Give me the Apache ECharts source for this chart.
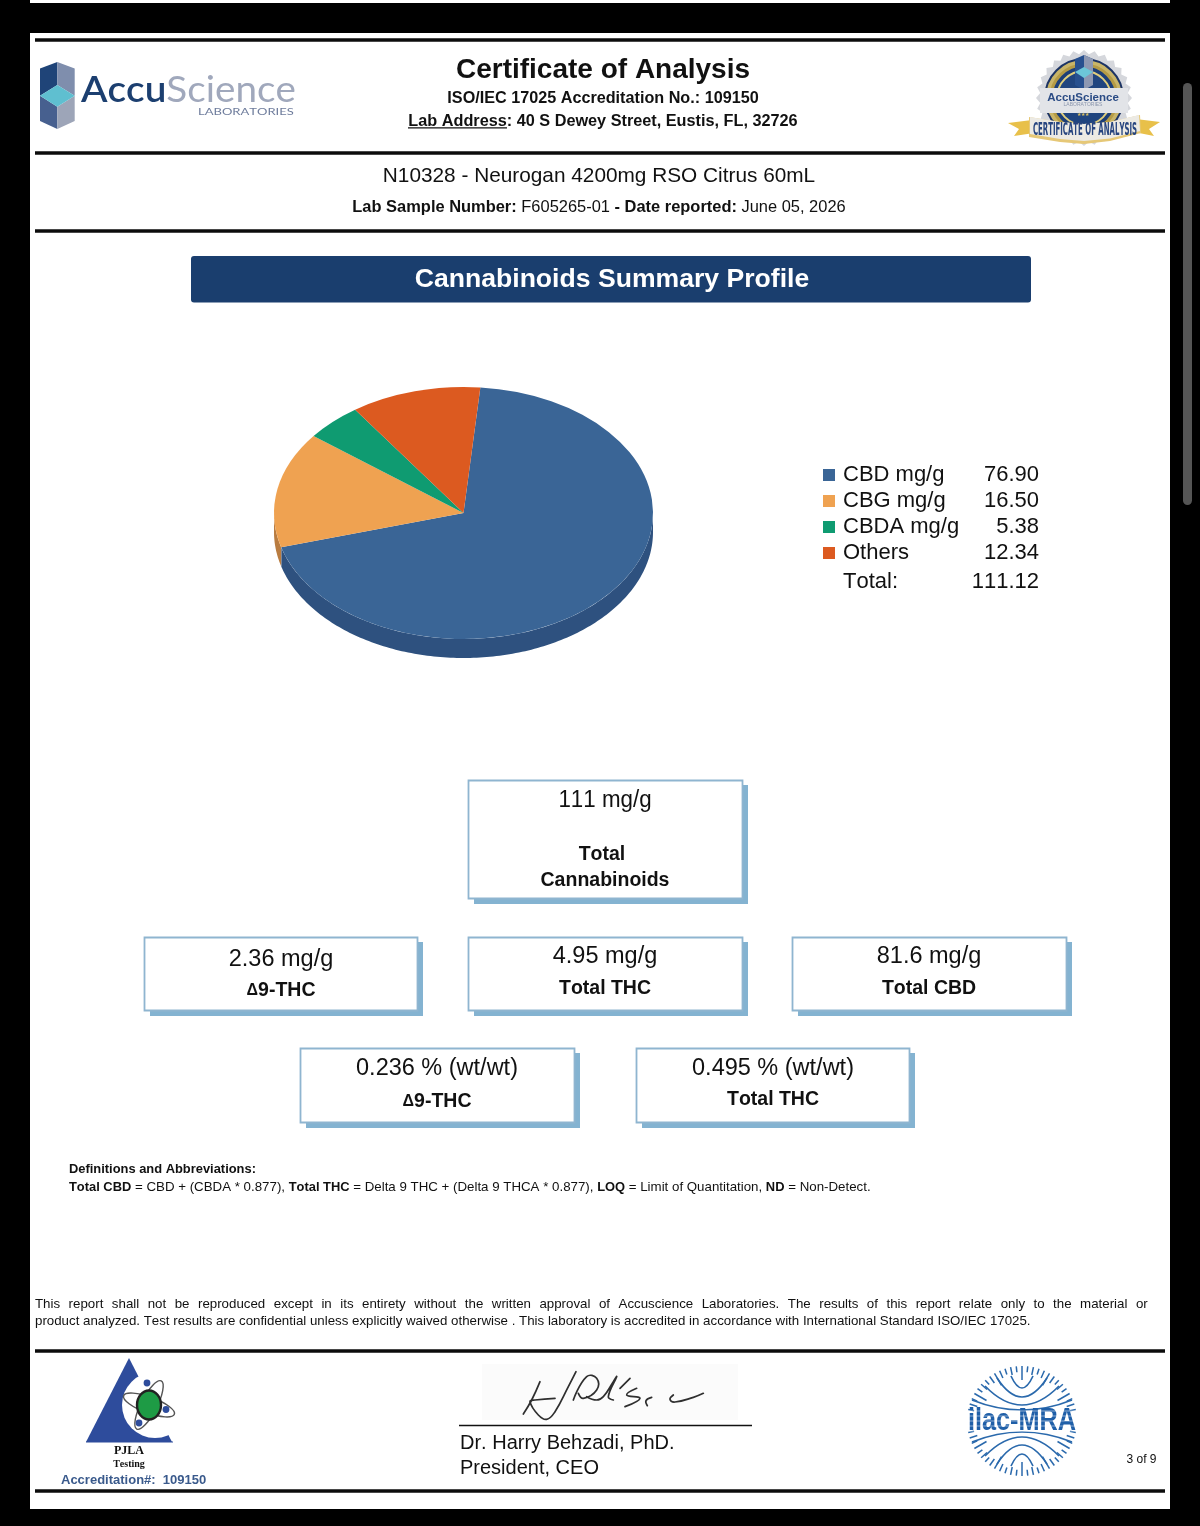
<!DOCTYPE html>
<html><head><meta charset="utf-8">
<style>html,body{margin:0;padding:0;background:#000}#c{width:1200px;height:1526px}</style>
<script src="https://cdn.jsdelivr.net/npm/echarts@6/dist/echarts.min.js"></script>
</head><body><div id="c"></div>
<script>
// ---- chart data ----
const categories = ['CBD mg/g', 'CBG mg/g', 'CBDA mg/g', 'Others'];
const values = [76.90, 16.50, 5.38, 12.34];
const valueLabels = ['76.90', '16.50', '5.38', '12.34'];
const totalLabel = '111.12';
const topColors = ['#3A6596', '#EFA251', '#0F9B71', '#DC5A20'];
const wallColors = ['#2E517F', '#B97C40', '#0B7655', '#A84418'];
// ---- summary card texts ----
const cardValues = ['111 mg/g', '2.36 mg/g', '4.95 mg/g', '81.6 mg/g', '0.236 % (wt/wt)', '0.495 % (wt/wt)'];
const cardNames = ['Total\nCannabinoids', 'Δ9-THC', 'Total THC', 'Total CBD', 'Δ9-THC', 'Total THC'];

// plain un-kerned text, as in the source document
const _gc = HTMLCanvasElement.prototype.getContext;
HTMLCanvasElement.prototype.getContext = function (t, o) {
  const c = _gc.call(this, t, o);
  if (c && t === '2d' && 'fontKerning' in c) c.fontKerning = 'none';
  return c;
};

const SANS = '"Liberation Sans", Arial, sans-serif';
const g = [];
const rect = (x, y, w, h, fill, extra) => g.push(Object.assign({type:'rect', shape:{x, y, width:w, height:h, r:(extra&&extra.r)||0}, style:{fill}, z:1}, extra&&extra.o));
function T(x, y, text, size, o) {
  o = o || {};
  g.push({type:'text', x, y:y+1, z:o.z||5, scaleX:o.sx||1, scaleY:o.sy||1, rotation:o.rot||0, style:{
    text, fill:o.fill||'#111', font:(o.bold?'bold ':'')+size+'px '+(o.family||SANS),
    textAlign:o.align||'center', textVerticalAlign:'middle', rich:o.rich
  }});
}
const line = (x1,y1,x2,y2,stroke,w,z) => g.push({type:'line', z:z||3, shape:{x1,y1,x2,y2}, style:{stroke, lineWidth:w}});
const poly = (points, fill, z) => g.push({type:'polygon', z:z||2, shape:{points}, style:{fill}});
const circ = (cx,cy,r,fill,stroke,w,z) => g.push({type:'circle', z:z||2, shape:{cx,cy,r}, style:{fill:fill||'none', stroke:stroke||'none', lineWidth:w||0}});
const curve = (points, w, color) => g.push({type:'polyline', z:4, shape:{points, smooth:0.45}, style:{stroke:color||'#2F2F2F', lineWidth:w||1.2, fill:'none', lineCap:'round'}});

// paper & chrome
rect(30, 0, 1140, 3, '#fff');
rect(30, 33, 1140, 1476, '#fff');
rect(1183, 83, 9, 422, '#555', {r:4.5});
[[40,3.5],[153,3.5],[231,3.5],[1351,3.5],[1491,3.5]].forEach(l => rect(35, l[0]-l[1]/2, 1130, l[1], '#0c0c0c'));

// AccuScience logo
poly([[57.3,62],[40,68.5],[40,95.7],[57.3,85]], '#1F4478');
poly([[57.3,62],[74.7,68.5],[74.7,95.7],[57.3,85]], '#7F8EAD');
poly([[40,95.7],[57.3,106.7],[57.3,129],[40,121]], '#47608F');
poly([[74.7,95.7],[57.3,106.7],[57.3,129],[74.7,121]], '#9DA5B8');
poly([[40,95.7],[57.3,85],[74.7,95.7],[57.3,106.7]], '#5FBFD0');
T(81, 89, '{a|Accu}{b|Science}', 37, {align:'left', sx:1.045, rich:{a:{fill:'#1C3F70', font:'600 37px Lato, sans-serif'}, b:{fill:'#A0A8BC', font:'37px Lato, sans-serif'}}});
T(198, 110.5, 'LABORATORIES', 9.5, {align:'left', sx:1.37, fill:'#6E7C9C', family:'Lato, sans-serif'});

// Header
T(603, 69, 'Certificate of Analysis', 28, {bold:true});
T(603, 98, 'ISO/IEC 17025 Accreditation No.: 109150', 16.2, {bold:true});
T(603, 120.5, 'Lab Address: 40 S Dewey Street, Eustis, FL, 32726', 16.25, {bold:true});
rect(408, 127.3, 99, 1.3, '#111');

// Seal
(function(){
  const cx=1084, cy=98, pts=[];
  for (let i=0;i<56;i++){ const a=i/56*Math.PI*2, r=i%2?44:48; pts.push([cx+r*Math.cos(a), cy+r*Math.sin(a)]); }
  poly(pts, '#D5D7DC');
  circ(cx,cy,39,'#C9B568','#1D3464',2);
  circ(cx,cy,33,'#1D3F78','#B59B45',3);
  circ(cx,cy,27,'#20457F','#E0CE7C',2);
  poly([[1084,55],[1075,59],[1075,85],[1084,90],[1093,85],[1093,59]], '#27508F', 3);
  poly([[1084,55],[1093,59],[1093,85],[1084,90]], '#8D98B2', 3);
  poly([[1075,72],[1084,67],[1093,72],[1084,78]], '#6CC6D8', 3);
  rect(1040, 88, 88, 25, '#E2E4E8', {o:{z:3}});
  T(1083, 96.5, 'AccuScience', 11.5, {bold:true, fill:'#2B4C85'});
  T(1083, 104, 'LABORATORIES', 5, {fill:'#8C97AE'});
  T(1083, 113.5, '★★★', 5, {fill:'#D9BE62'});
  poly([[1008,123],[1032,120],[1034,133],[1014,136],[1019,129]], '#E8C04A', 3);
  poly([[1160,122],[1136,119],[1134,132],[1154,136],[1149,129]], '#E8C04A', 3);
  poly([[1029,117],[1060,122],[1084,124],[1110,122],[1140,115],[1141,133],[1110,141],[1084,144],[1060,142],[1029,137]], '#E6C877', 4);
  poly([[1030,117],[1060,122],[1084,124],[1110,122],[1139,115],[1140,131],[1110,138.5],[1084,141],[1060,139],[1030,134]], '#ECEAE4', 4);
  T(1085, 129, 'CERTIFICATE OF ANALYSIS', 18, {bold:true, fill:'#27457F', sx:0.43, family:'"DejaVu Sans Condensed","Liberation Sans Narrow",sans-serif', z:6});
})();

// Sample line
T(599, 175.5, 'N10328 - Neurogan 4200mg RSO Citrus 60mL', 20.8);
T(599, 206, '{b|Lab Sample Number:} F605265-01 {b|- Date reported:} June 05, 2026', 16.45, {rich:{b:{font:'bold 16.45px '+SANS, fill:'#111'}}});

// Banner
rect(191, 256, 840, 46.5, '#1A3E6E', {r:3});
T(612, 278.5, 'Cannabinoids Summary Profile', 26.6, {bold:true, fill:'#fff'});

// Legend total row
T(843, 581, 'Total:', 22, {align:'left'});
T(1039, 581, totalLabel, 22, {align:'right'});

// Cards
const cards = [[468,780,275,119],[144,937,274,74],[468,937,275,74],[792,937,275,74],[300,1048,275,75],[636,1048,274,75]];
cards.forEach(c => {
  rect(c[0]+6, c[1]+5, c[2]-1, c[3], '#84B3D1');
  g.push({type:'rect', z:2, shape:{x:c[0]+0.5, y:c[1]+0.5, width:c[2]-1, height:c[3]-1}, style:{fill:'#fff', stroke:'#8FB5D0', lineWidth:1.8}});
});
const valueY = [800,959,956,956,1068,1068];
const valueX = [605,281,605,929,437,773];
const nameY = [854,990,988,988,1101,1099];
cardValues.forEach((v,i) => T(valueX[i], valueY[i], v, 23.5, {sx:i===0?0.95:1}));
const delta = {d:{font:'bold 16px '+SANS, fill:'#111'}, e:{font:'bold 19.5px '+SANS, fill:'#111'}};
cardNames.forEach((n,i) => {
  if (i===0) { n.split('\n').forEach((s,j) => T(j?605:602, nameY[0]+26*j, s, 19.5, {bold:true})); }
  else if (n[0]==='Δ') T(valueX[i], nameY[i], '{d|Δ}{e|'+n.slice(1)+'}', 19.5, {bold:true, rich:delta});
  else T(valueX[i], nameY[i], n, 19.5, {bold:true});
});

// Notes
const bs = {b:{font:'bold 12.9px '+SANS, fill:'#111'}};
T(69, 1168, 'Definitions and Abbreviations:', 12.9, {align:'left', bold:true});
T(69, 1186, '{b|Total CBD} = CBD + (CBDA * 0.877), {b|Total THC} = Delta 9 THC + (Delta 9 THCA * 0.877), {b|LOQ} = Limit of Quantitation, {b|ND} = Non-Detect.', 13.3, {align:'left', rich:bs});
const discl = 'This report shall not be reproduced except in its entirety without the written approval of Accuscience Laboratories. The results of this report relate only to the material or'.split(' ');
T(35, 1303.5, discl.join('  \u200A'), 13.3, {align:'left'});
T(35, 1320.5, 'product analyzed. Test results are confidential unless explicitly waived otherwise . This laboratory is accredited in accordance with International Standard ISO/IEC 17025.', 13.3, {align:'left'});

// PJLA
poly([[129,1358],[86,1442],[172,1442]], '#2E4C9C');
circ(155,1405,33,'#fff',null,0,3);
rect(86,1441.5,87,1,'#2E4C9C',{o:{z:4}});
g.push({type:'ellipse', z:4, shape:{cx:149,cy:1405,rx:27,ry:8}, rotation:-0.35, originX:149, originY:1405, style:{fill:'none',stroke:'#555',lineWidth:1.4}});
g.push({type:'ellipse', z:4, shape:{cx:149,cy:1405,rx:27,ry:8}, rotation:1.1, originX:149, originY:1405, style:{fill:'none',stroke:'#555',lineWidth:1.4}});
g.push({type:'ellipse', z:4, shape:{cx:149,cy:1405,rx:12,ry:14.5}, style:{fill:'#1E9B45',stroke:'#222',lineWidth:2.4}});
circ(147,1383,3.4,'#2E4C9C',null,0,5); circ(166,1409.5,3.4,'#2E4C9C',null,0,5); circ(139,1423,3.4,'#2E4C9C',null,0,5);
T(129, 1449.5, 'PJLA', 12, {bold:true, family:'"Liberation Serif",serif'});
T(129, 1463.5, 'Testing', 10, {bold:true, family:'"Liberation Serif",serif'});
T(61, 1479, 'Accreditation#:  109150', 13, {align:'left', bold:true, fill:'#3A5A8C'});

// Signature
rect(482, 1364, 256, 56, '#FBFBFB');
const sg = pts => curve(pts.map(p => [440+p[0]/3, 1340+p[1]/3]), 1.7);
sg([[300,125],[275,180],[250,222]]);
sg([[408,95],[385,140],[345,215],[320,238],[295,225],[270,185],[285,180],[345,175]]);
sg([[400,180],[440,110],[470,115],[470,150],[430,175],[415,160]]);
sg([[440,170],[470,180],[490,170],[520,125],[530,110],[505,170],[520,180]]);
sg([[540,145],[570,115]]);
sg([[555,200],[600,175],[560,165],[590,145]]);
sg([[635,172],[618,182],[622,197]]);
sg([[700,165],[690,178],[705,186],[760,172],[790,160]]);
line(459,1425.5,752,1425.5,'#111',1.5);
T(460, 1442.5, 'Dr. Harry Behzadi, PhD.', 20, {align:'left'});
T(460, 1467.5, 'President, CEO', 20, {align:'left'});

// ilac
(function(){
  const cx=1022, cy=1421, blue='#2A69AC';
  for (let i=0;i<60;i++){
    const a=i/60*Math.PI*2, s=Math.sin(a), c=Math.cos(a);
    if (Math.abs(s)<0.2) continue;
    const r0 = i%5===0 ? 41 : (i%2 ? 47 : 49);
    line(cx+r0*c, cy+r0*s, cx+55*c, cy+55*s, blue, 1.5);
  }
  [[1011,1376,1033,1376,1388],[997,1378,1047,1378,1397],[985,1386,1059,1386,1405],[972,1400,1072,1400,1410]].forEach(a => {
    [1,-1].forEach(m => {
      const f = y => m>0 ? y : 2*cy-y;
      g.push({type:'bezierCurve', z:3, shape:{x1:a[0],y1:f(a[1]),x2:a[2],y2:f(a[3]),cpx1:(a[0]+a[2])/2,cpy1:f(2*a[4]-a[1])}, style:{stroke:blue,lineWidth:1.7,fill:'none'}});
    });
  });
  T(1022, 1420, 'ilac-MRA', 25.3, {bold:true, fill:'#1F5FA8', z:6, sy:1.25});
  [1411,1416,1421,1426,1431].forEach(y => line(966,y,1078,y,'rgba(255,255,255,0.55)',0.9,7));
})();
T(1141.5, 1458.5, '3 of 9', 12);

// Pie, drawn by the library from the arrays: an elliptical pie with an extruded rim
const PIE = {cx:463.5, cy:513, rx:189.5, ry:126, depth:19, start:5.1};
const total = values.reduce((a,b) => a+b, 0);
const D2R = Math.PI/180;
function sliceRender(index) {
  return function (params, api) {
    const val = api.value(0);
    let before = 0;
    for (let i=0;i<index;i++) before += values[i];
    const a0 = PIE.start + before/total*360, a1 = a0 + val/total*360;
    const children = [];
    const lo = Math.max(a0, 90), hi = Math.min(a1, 270);
    if (hi > lo) {
      const top = [], bot = [];
      for (let a=lo; a<hi+0.5; a+=1) {
        const t=Math.min(a,hi)*D2R, x=PIE.cx+PIE.rx*Math.sin(t), y=PIE.cy-PIE.ry*Math.cos(t);
        top.push([x,y]); bot.unshift([x,y+PIE.depth]);
      }
      children.push({type:'polygon', shape:{points:top.concat(bot)}, style:{fill:wallColors[index]}});
    }
    children.push({type:'sector', x:PIE.cx, y:PIE.cy, scaleX:1, scaleY:PIE.ry/PIE.rx,
      shape:{cx:0, cy:0, r:PIE.rx, r0:0, startAngle:(a0-90)*D2R, endAngle:(a1-90)*D2R, clockwise:true},
      style:{fill:topColors[index]}});
    return {type:'group', children};
  };
}

const chart = echarts.init(document.getElementById('c'), null, {width:1200, height:1526});
const legendText = {fontSize:22, fontFamily:SANS, color:'#111', lineHeight:26, height:26};
chart.setOption({
  animation:false,
  backgroundColor:'#000',
  graphic:{elements:g},
  legend:{
    left:823, top:462, orient:'vertical', itemWidth:12, itemHeight:12, itemGap:0, padding:0,
    icon:'rect', selectedMode:false, data:categories,
    formatter: name => '{n|'+name+'}{v|'+valueLabels[categories.indexOf(name)]+'}',
    textStyle:{rich:{
      n:Object.assign({width:136, padding:[0,0,0,3]}, legendText),
      v:Object.assign({width:60, align:'right'}, legendText)
    }}
  },
  series: categories.map((name,i) => ({
    type:'custom', name, coordinateSystem:'none', silent:true, clip:false, z:10,
    itemStyle:{color:topColors[i]},
    data:[[values[i]]], encode:{value:0},
    renderItem:sliceRender(i)
  }))
});
</script></body></html>
